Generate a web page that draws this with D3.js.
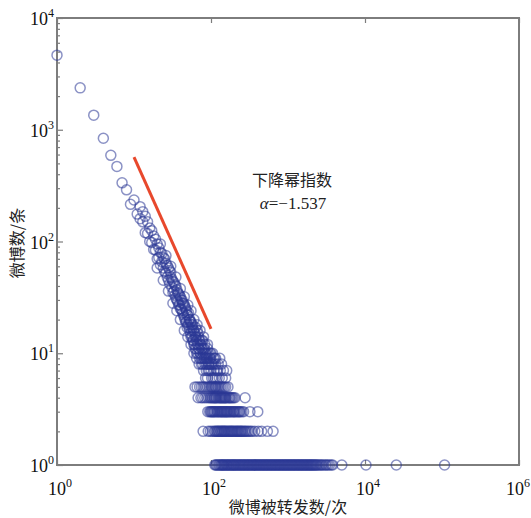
<!DOCTYPE html>
<html>
<head>
<meta charset="utf-8">
<script src="https://cdn.jsdelivr.net/npm/d3@7"></script>
<style>
  body { margin: 0; background: #fff; }
  svg { display: block; }
</style>
</head>
<body>
<svg id="chart" width="531" height="518"></svg>
<script>
// Retweet-count distribution: number of posts (y) having a given retweet count (x)

// Low retweet counts, one point each
const headRetweets = [1, 2, 3, 4, 5, 6, 7, 8, 9];
const headPosts    = [4650, 2370, 1350, 840, 590, 470, 335, 290, 215];

// Main power-law body
const bodyRetweets = [10, 11, 12, 13, 14, 15, 16, 17, 18, 19, 20, 21, 22, 23, 24, 25, 26, 27, 28, 29,
  30, 31, 32, 33, 34, 35, 36, 37, 38, 39, 40, 41, 42, 43, 44, 45, 46, 47, 48, 49,
  50, 51, 52, 53, 54, 55, 56, 57, 58, 59, 60, 61, 62, 63, 64, 65, 66, 67, 68, 69,
  70, 71, 72, 73, 74, 75, 76, 77, 78, 79, 80, 81, 82, 83, 84, 85, 86, 87, 88, 89,
  90, 91, 92, 93, 95, 96, 98, 100, 102, 104, 107, 108, 110, 113, 115, 120, 122, 128, 130, 140, 155,
  12, 13, 14, 15, 16, 17, 18, 19, 20, 21, 22, 23, 24, 25, 26, 27, 28, 29, 30, 31,
  32, 33, 34, 35, 36, 37, 38, 39, 40, 41, 42, 43, 44, 45, 46, 47, 48, 49, 50, 52,
  53, 54, 55, 56, 57, 58, 59, 60, 62, 63, 64, 65, 66, 68, 69, 70, 72, 73, 74, 76,
  77, 78, 80, 82, 83, 85, 86, 88, 90, 92, 94, 97, 99, 101, 105, 109, 112, 118, 124, 132, 137, 145, 160,
  20, 24, 28, 32, 36, 40, 45, 50, 55, 60, 65, 70,
  22, 26, 30, 35, 40, 45, 50, 55, 60, 66, 72, 80, 90, 100, 115];
const bodyPosts = [235, 176, 205, 150, 168, 118, 132, 98, 112, 84, 95, 72, 80, 66, 58, 70, 52, 61, 45, 55,
  48, 39, 44, 36, 41, 31, 37, 29, 34, 27, 32, 25, 30, 23, 28, 21, 26, 19, 24, 22,
  18, 23, 17, 20, 15, 19, 16, 14, 18, 13, 16, 12, 15, 14, 11, 13, 16, 10, 12, 14,
  11, 9, 13, 10, 12, 8, 11, 9, 13, 10, 7, 9, 11, 8, 10, 6, 9, 7, 10, 8,
  6, 9, 7, 8, 7, 9, 8, 7, 6, 8, 6, 9, 7, 6, 8, 6, 7, 6, 9, 6, 6,
  160, 185, 120, 150, 100, 125, 85, 105, 70, 88, 62, 78, 72, 54, 64, 48, 58, 42, 53, 46,
  35, 43, 33, 40, 30, 35, 27, 33, 25, 30, 24, 28, 22, 27, 20, 25, 19, 17, 22, 20,
  16, 19, 14, 18, 17, 13, 16, 12, 11, 17, 14, 10, 12, 15, 11, 13, 10, 12, 9, 13,
  11, 8, 11, 9, 12, 10, 8, 9, 11, 10, 8, 10, 9, 8, 10, 8, 9, 7, 8, 7, 8, 7, 7,
  58, 45, 36, 28, 24, 20, 16, 14, 12, 10, 9, 8,
  95, 75, 60, 48, 38, 32, 27, 24, 20, 18, 16, 14, 12, 10, 9];

// Retweet counts shared by exactly 5, 4, 3, 2 and 1 posts
const fivePostRetweets  = [62, 66, 71, 75, 79, 84, 89, 94, 99, 102, 105, 108, 112, 114, 117, 121, 125, 130, 135, 141, 148, 155, 166];
const fourPostRetweets  = [68, 74, 78, 83, 88, 93, 97, 100, 103, 106, 109, 111, 114, 116, 119, 123, 127, 130, 133, 136, 139, 142,
  146, 149, 152, 155, 158, 164, 170, 174, 178, 184, 190, 197, 205, 277];
const threePostRetweets = [91, 96, 99, 101, 104, 106, 109, 111, 114, 118, 121, 124, 127, 131, 134, 137, 140, 143, 147, 150, 153,
  157, 160, 163, 167, 172, 176, 181, 186, 193, 197, 201, 207, 214, 221, 228, 234, 240, 252, 265, 320, 405];
const twoPostRetweets   = [79, 92, 98, 104, 110, 113, 117, 120, 123, 126, 129, 133, 136, 139, 142, 146, 149, 152, 156, 160,
  165, 169, 174, 178, 183, 187, 192, 197, 203, 209, 215, 220, 226, 232, 239, 245, 251, 258, 268, 276,
  285, 297, 310, 325, 342, 370, 410, 455, 540, 640];
const onePostRetweets   = [112, 115, 118, 122, 126, 129, 133, 136, 139, 142, 145, 148, 152, 156, 160, 163, 167, 171, 175, 180,
  184, 188, 193, 197, 201, 206, 211, 216, 222, 227, 233, 238, 244, 250, 256, 262, 268, 274, 281, 288,
  295, 302, 309, 316, 324, 332, 340, 348, 357, 365, 374, 383, 392, 401, 411, 421, 431, 441, 452, 463,
  474, 485, 497, 509, 521, 533, 546, 559, 573, 587, 601, 615, 630, 645, 661, 677, 693, 710, 727, 744,
  762, 780, 799, 818, 838, 858, 879, 900, 922, 944, 967, 990, 1014, 1038, 1063, 1089, 1115, 1142, 1169, 1197,
  1226, 1255, 1286, 1317, 1349, 1382, 1415, 1449, 1484, 1520, 1556, 1594, 1632, 1672, 1712, 1753, 1795, 1839, 1883, 1929,
  1975, 2020, 2071, 2120, 2172, 2230, 2290, 2350, 2410, 2500, 2600, 2690, 2780, 2900, 3050, 3150, 3300, 3450, 3650, 3800,
  5000, 10300, 25500, 108000];

// Power-law fit
const fitAlpha = -1.537;
const fitStart = [10, 570];
const fitEndRetweets = 100;

// Axis ticks
const xTickExponents = [0, 2, 4, 6];
const yTickExponents = [0, 1, 2, 3, 4];

// Text
const xTitle = "微博被转发数/次";
const yTitle = "微博数/条";
const noteLine1 = "下降幂指数";
const noteLine2 = "=−1.537";

// ---- assemble points ----
const points = [];
headRetweets.forEach((x, i) => points.push({ x, y: headPosts[i] }));
bodyRetweets.forEach((x, i) => points.push({ x, y: bodyPosts[i] }));
fivePostRetweets.forEach(x => points.push({ x, y: 5 }));
fourPostRetweets.forEach(x => points.push({ x, y: 4 }));
threePostRetweets.forEach(x => points.push({ x, y: 3 }));
twoPostRetweets.forEach(x => points.push({ x, y: 2 }));
onePostRetweets.forEach(x => points.push({ x, y: 1 }));

const svg = d3.select("#chart");
const W = 531;
const plot = { left: 57, right: 519, top: 18, bottom: 465 };

const x = d3.scaleLog().domain([1, 1e6]).range([plot.left, plot.right]);
const y = d3.scaleLog().domain([1, 1e4]).range([plot.bottom, plot.top]);

const serif = "'Liberation Serif', 'Times New Roman', serif";
const cjk = "'Noto Sans CJK SC', sans-serif";
const axisGrey = "#7d7d7d";

// minor / major tick values
const yMinor = [];
for (let e = 0; e < 4; e++) for (let m = 2; m <= 9; m++) yMinor.push(m * Math.pow(10, e));
const yMajor = yTickExponents.map(e => Math.pow(10, e));
const xMajor = xTickExponents.map(e => Math.pow(10, e));

// inward ticks on the left edge
const yMinorAxis = d3.axisRight(y).tickValues(yMinor).tickSize(3).tickFormat("");
const yMajorAxis = d3.axisRight(y).tickValues(yMajor).tickSize(6).tickFormat("");
[yMinorAxis, yMajorAxis].forEach(ax => {
  const g = svg.append("g").attr("transform", `translate(${plot.left},0)`).call(ax);
  g.select(".domain").remove();
  g.selectAll("line").attr("stroke", axisGrey).attr("stroke-width", 1.2);
});

// inward ticks on top and bottom edges
const xTopAxis = d3.axisBottom(x).tickValues(xMajor).tickSize(5).tickFormat("");
const xBottomAxis = d3.axisTop(x).tickValues(xMajor).tickSize(5).tickFormat("");
[[xTopAxis, plot.top], [xBottomAxis, plot.bottom]].forEach(([ax, ty]) => {
  const g = svg.append("g").attr("transform", `translate(0,${ty})`).call(ax);
  g.select(".domain").remove();
  g.selectAll("line").attr("stroke", axisGrey).attr("stroke-width", 1.2);
});

// frame
svg.append("rect")
  .attr("x", plot.left).attr("y", plot.top)
  .attr("width", plot.right - plot.left).attr("height", plot.bottom - plot.top)
  .attr("fill", "none").attr("stroke", axisGrey).attr("stroke-width", 2);

// power-of-ten tick labels
function powerLabel(sel, exp) {
  sel.append("tspan").text("10");
  sel.append("tspan").attr("dy", -8).attr("font-size", 12).text(exp);
}
yTickExponents.forEach(e => {
  svg.append("text")
    .attr("x", 54).attr("y", y(Math.pow(10, e)) + 7)
    .attr("text-anchor", "end")
    .attr("font-family", serif).attr("font-size", 18).attr("fill", "#111")
    .call(powerLabel, e);
});
xTickExponents.forEach(e => {
  const t = svg.append("text")
    .attr("y", 495)
    .attr("text-anchor", "middle")
    .attr("font-family", serif).attr("font-size", 18).attr("fill", "#111")
    .call(powerLabel, e);
  const w = t.node().getComputedTextLength();
  t.attr("x", Math.min(x(Math.pow(10, e)) + 3, W - 1 - w / 2));
});

// axis titles
svg.append("text")
  .attr("x", 288).attr("y", 513)
  .attr("text-anchor", "middle")
  .attr("font-family", cjk).attr("font-size", 16).attr("fill", "#222")
  .text(xTitle);
svg.append("text")
  .attr("transform", "translate(23,243) rotate(-90)")
  .attr("text-anchor", "middle")
  .attr("font-family", cjk).attr("font-size", 16).attr("fill", "#222")
  .text(yTitle);

// scatter
svg.append("g")
  .selectAll("circle")
  .data(points)
  .join("circle")
  .attr("cx", d => x(d.x))
  .attr("cy", d => y(d.y))
  .attr("r", 5)
  .attr("fill", "none")
  .attr("stroke", "#2c3896")
  .attr("stroke-opacity", 0.55)
  .attr("stroke-width", 1.5);

// fitted power law
const fitLine = [fitStart, [fitEndRetweets, fitStart[1] * Math.pow(fitEndRetweets / fitStart[0], fitAlpha)]];
svg.append("path")
  .datum(fitLine)
  .attr("d", d3.line().x(d => x(d[0])).y(d => y(d[1])))
  .attr("stroke", "#e8482c")
  .attr("stroke-width", 3)
  .attr("fill", "none");

// annotation
svg.append("text")
  .attr("x", 292).attr("y", 186)
  .attr("text-anchor", "middle")
  .attr("font-family", cjk).attr("font-size", 16).attr("fill", "#222")
  .text(noteLine1);
const note2 = svg.append("text")
  .attr("x", 293).attr("y", 209)
  .attr("text-anchor", "middle")
  .attr("font-family", serif).attr("font-size", 17).attr("fill", "#222");
note2.append("tspan").attr("font-style", "italic").text("α");
note2.append("tspan").text(noteLine2);
</script>
</body>
</html>
